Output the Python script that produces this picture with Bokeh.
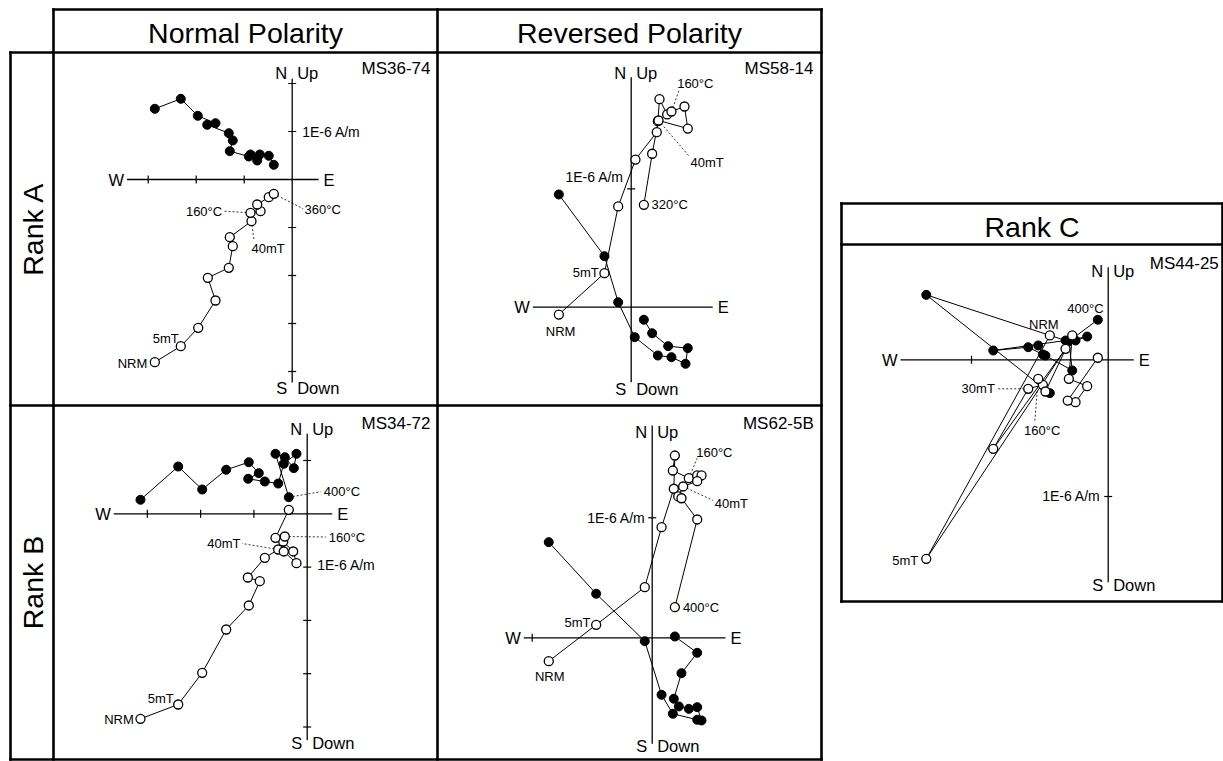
import numpy as np
from bokeh.plotting import figure
from bokeh.models import Range1d
from bokeh.embed import file_html
from bokeh.resources import INLINE
from bokeh.core.properties import value

W, H = 1223, 761
FONT = value("Liberation Sans")

# ---------------- titles ----------------
col_titles = ["Normal Polarity", "Reversed Polarity"]
row_titles = ["Rank A", "Rank B"]
side_title = "Rank C"
axis_unit_label = "1E-6 A/m"

# ---------------- data (units of 1E-6 A/m) ----------------
# h = horizontal projection (E, N) -> solid ; v = vertical projection (E, Up) -> open
NA_name = "MS36-74"
NA_h_e = [-2.862, -2.321, -1.967, -1.598, -1.771, -1.321, -1.238, -1.300, -0.904, -0.869, -0.729, -0.675, -0.488, -0.383]
NA_h_n = [1.473, 1.681, 1.327, 1.173, 1.140, 0.965, 0.813, 0.590, 0.479, 0.521, 0.396, 0.521, 0.494, 0.306]
NA_v_e = [-2.862, -2.321, -1.958, -1.598, -1.758, -1.321, -1.238, -1.300, -0.848, -0.869, -0.660, -0.729, -0.488, -0.383]
NA_v_u = [-3.806, -3.473, -3.090, -2.521, -2.048, -1.840, -1.390, -1.202, -0.869, -0.694, -0.660, -0.521, -0.369, -0.298]

RA_name = "MS58-14"
RA_h_e = [-0.611, -0.226, -0.110, 0.030, 0.225, 0.340, 0.459, 0.478, 0.312, 0.177, 0.107]
RA_h_n = [0.952, 0.431, 0.042, -0.253, -0.408, -0.422, -0.478, -0.346, -0.329, -0.220, -0.106]
RA_v_e = [-0.611, -0.226, -0.110, 0.036, 0.216, 0.225, 0.239, 0.304, 0.340, 0.450, 0.478, 0.231, 0.177, 0.107]
RA_v_u = [-0.062, 0.287, 0.851, 1.247, 1.478, 1.571, 1.757, 1.628, 1.653, 1.695, 1.509, 1.577, 1.296, 0.865]

NB_name = "MS34-72"
NB_h_e = [-3.128, -2.420, -1.970, -1.520, -1.096, -0.908, -1.107, -0.795, -0.544, -0.439, -0.201, -0.251, -0.420, -0.595, -0.345]
NB_h_n = [0.263, 0.887, 0.456, 0.826, 0.968, 0.762, 0.657, 0.606, 0.568, 0.938, 1.126, 0.856, 1.062, 1.126, 0.311]
NB_v_e = [-3.128, -2.420, -1.970, -1.520, -1.096, -0.889, -1.114, -0.795, -0.544, -0.439, -0.201, -0.263, -0.450, -0.420, -0.595, -0.345]
NB_v_u = [-3.846, -3.578, -2.983, -2.171, -1.720, -1.265, -1.195, -0.826, -0.670, -0.707, -0.927, -0.707, -0.520, -0.426, -0.450, 0.075]

RB_name = "MS62-5B"
RB_h_e = [-0.862, -0.467, -0.062, 0.078, 0.172, 0.375, 0.411, 0.375, 0.305, 0.222, 0.180, 0.244, 0.375, 0.189]
RB_h_n = [0.797, 0.367, -0.028, -0.475, -0.633, -0.683, -0.689, -0.578, -0.592, -0.572, -0.508, -0.295, -0.125, 0.011]
RB_v_e = [-0.862, -0.467, -0.062, 0.078, 0.180, 0.189, 0.172, 0.305, 0.375, 0.411, 0.375, 0.258, 0.217, 0.244, 0.375, 0.189]
RB_v_u = [-0.195, 0.108, 0.422, 0.922, 1.242, 1.519, 1.394, 1.330, 1.353, 1.353, 1.305, 1.261, 1.178, 1.163, 0.986, 0.255]

C_name = "MS44-25"
C_e = [-0.427, -1.331, -0.312, -0.841, -0.585, -0.478, -0.512, -0.459, -0.263, -0.288, -0.154, -0.239, -0.296, -0.076]
C_n = [-0.244, 0.475, 0.141, 0.068, 0.092, 0.039, 0.105, 0.031, -0.078, 0.141, 0.170, 0.141, 0.129, 0.293]
C_u = [0.178, -1.456, 0.080, -0.651, -0.212, -0.183, -0.139, -0.232, 0.178, -0.139, -0.193, -0.310, -0.298, 0.015]

# ---------------- figure ----------------
p = figure(width=W, height=H, x_range=Range1d(0, W), y_range=Range1d(0, H),
           output_backend="svg", toolbar_location=None,
           x_axis_type=None, y_axis_type=None, min_border=0)
p.outline_line_color = None
p.background_fill_color = "white"
p.border_fill_color = "white"


def Y(v):
    return H - v


# table frame
frame = [
    (53, 9, 821, 9), (10, 52, 821, 52), (10, 405, 821, 405), (10, 759, 821, 759),
    (10, 52, 10, 759), (53, 9, 53, 759), (437, 9, 437, 759), (821, 9, 821, 759),
    (841, 203, 1222, 203), (841, 244, 1222, 244), (841, 601, 1222, 601),
    (841, 203, 841, 601), (1222, 203, 1222, 601),
]
p.segment(x0=[f[0] for f in frame], y0=[Y(f[1]) for f in frame],
          x1=[f[2] for f in frame], y1=[Y(f[3]) for f in frame],
          line_color="black", line_width=2.6, line_cap="square")

p.text(x=[245, 629, 1031.5], y=[Y(32), Y(32), Y(226)], text=col_titles + [side_title],
       text_align="center", text_baseline="middle", text_font=FONT,
       text_font_size="28.5px", text_color="black")
p.text(x=[32.5, 32.5], y=[Y(228.5), Y(582)], text=row_titles, angle=np.pi / 2,
       text_align="center", text_baseline="middle", text_font=FONT,
       text_font_size="28.5px", text_color="black")

panels = [
    dict(name=NA_name, he=NA_h_e, hn=NA_h_n, ve=NA_v_e, vu=NA_v_u,
         origin=(291.7, 179), scale=48.0, xaxis=(-3.44, 0.55), yaxis=(2.10, -4.23),
         xticks=[-3, -2, -1], yticks=[2, 1, -1, -2, -3, -4], top_off=-5.5, bot_off=5,
         sample_pos=(430, 68),
         labels=[("NRM", ("v", 0), -7.5, 1.5, "right", None),
                 ("5mT", ("v", 1), -2, -8, "right", None),
                 ("160°C", ("v", 9), -28.3, -1.6, "right", (-26, -1.6)),
                 ("40mT", ("v", 8), 0, 27.7, "left", (2.5, 19)),
                 ("360°C", ("v", 13), 30.7, 15.7, "left", (29.5, 15)),
                 (axis_unit_label, ("t", 0, 1), 10, 0, "left", None)]),
    dict(name=RA_name, he=RA_h_e, hn=RA_h_n, ve=RA_v_e, vu=RA_v_u,
         origin=(630.7, 306.7), scale=118.4, xaxis=(-0.831, 0.689), yaxis=(1.943, -0.633),
         xticks=[], yticks=[1], top_off=-4, bot_off=7,
         sample_pos=(813, 68),
         labels=[("NRM", ("v", 0), 1.7, 16.7, "center", None),
                 ("5mT", ("v", 1), -5.7, -1, "right", None),
                 ("320°C", ("v", 13), 7.7, 0, "left", None),
                 ("160°C", ("v", 8), 5.7, -27.7, "left", (7.5, -21)),
                 ("40mT", ("v", 11), 32, 41.7, "left", (30, 35)),
                 (axis_unit_label, ("t", 0, 1), -7.4, -11.6, "right", None)]),
    dict(name=NB_name, he=NB_h_e, hn=NB_h_n, ve=NB_v_e, vu=NB_v_u,
         origin=(306.7, 513.3), scale=53.3, xaxis=(-3.63, 0.47), yaxis=(1.50, -4.25),
         xticks=[-3, -2, -1], yticks=[1, -1, -2, -3, -4], top_off=-4.5, bot_off=2.5,
         sample_pos=(430, 422.7),
         labels=[("NRM", ("v", 0), -6.7, 1, "right", None),
                 ("5mT", ("v", 1), -4.4, -6.3, "right", None),
                 ("40mT", ("v", 8), -37.7, -6.3, "right", (-36, -6)),
                 ("160°C", ("v", 13), 44, 0.7, "left", (41, 0.5)),
                 ("400°C", ("h", 14), 35, -6, "left", (32, -5.5)),
                 (axis_unit_label, ("t", 0, -1), 10, -2, "left", None)]),
    dict(name=RB_name, he=RB_h_e, hn=RB_h_n, ve=RB_v_e, vu=RB_v_u,
         origin=(651.7, 637.3), scale=120.0, xaxis=(-1.07, 0.611), yaxis=(1.769, -0.883),
         xticks=[-1], yticks=[1], top_off=6, bot_off=2,
         sample_pos=(813.3, 422.7),
         labels=[("NRM", ("v", 0), 1, 15.3, "center", None),
                 ("5mT", ("v", 1), -5.7, -2.6, "right", None),
                 ("400°C", ("v", 15), 8, 0, "left", None),
                 ("160°C", ("v", 7), 7.4, -26, "left", (8.4, -20)),
                 ("40mT", ("v", 11), 31.6, 17.3, "left", (30, 14)),
                 (axis_unit_label, ("t", 0, 1), -6.7, 0, "right", None)]),
    dict(name=C_name, he=C_e, hn=C_n, ve=C_e, vu=C_u,
         origin=(1107.7, 359.3), scale=136.7, xaxis=(-1.519, 0.187), yaxis=(0.677, -1.627),
         xticks=[-1], yticks=[-1], top_off=4, bot_off=3,
         sample_pos=(1218.3, 263),
         labels=[("NRM", ("v", 0), -6, -11, "center", None),
                 ("5mT", ("v", 1), -8, 1.7, "right", None),
                 ("30mT", ("v", 4), -33.4, 0, "right", (-31, 0)),
                 ("160°C", ("v", 6), 4, 51.7, "center", (-3.5, 44)),
                 ("400°C", ("h", 13), -12.3, -11, "center", None),
                 (axis_unit_label, ("t", 0, -1), -7.7, -1, "right", None)]),
]

TXT = dict(text_font=FONT, text_color="black", text_baseline="middle")

for P in panels:
    s = P["scale"]
    ox, oy = P["origin"]
    sp = p.subplot(x_source=Range1d(0, 1), y_source=Range1d(0, 1),
                   x_target=Range1d(ox, ox + s), y_target=Range1d(Y(oy), Y(oy) + s))
    x0, x1 = P["xaxis"]
    y0, y1 = P["yaxis"]
    sp.segment(x0=[x0, 0], y0=[0, y0], x1=[x1, 0], y1=[0, y1], line_color="black", line_width=1.3)
    t = 4.0 / s
    xt, yt = P["xticks"], P["yticks"]
    if xt:
        sp.segment(x0=xt, y0=[-t] * len(xt), x1=xt, y1=[t] * len(xt), line_color="black", line_width=1.2)
    if yt:
        sp.segment(x0=[-t] * len(yt), y0=yt, x1=[t] * len(yt), y1=yt, line_color="black", line_width=1.2)

    ax_fs = "16.5px"
    sp.text(x=[x0], y=[0], text=["W"], text_align="right", x_offset=-3, text_font_size=ax_fs, **TXT)
    sp.text(x=[x1], y=[0], text=["E"], text_align="left", x_offset=5, text_font_size=ax_fs, **TXT)
    sp.text(x=[0], y=[y0], text=["N"], text_align="right", x_offset=-5, y_offset=P["top_off"], text_font_size=ax_fs, **TXT)
    sp.text(x=[0], y=[y0], text=["Up"], text_align="left", x_offset=5, y_offset=P["top_off"], text_font_size=ax_fs, **TXT)
    sp.text(x=[0], y=[y1], text=["S"], text_align="right", x_offset=-5, y_offset=P["bot_off"], text_font_size=ax_fs, **TXT)
    sp.text(x=[0], y=[y1], text=["Down"], text_align="left", x_offset=5, y_offset=P["bot_off"], text_font_size=ax_fs, **TXT)

    def ref_xy(r):
        if r[0] == "v":
            return P["ve"][r[1]], P["vu"][r[1]]
        if r[0] == "h":
            return P["he"][r[1]], P["hn"][r[1]]
        return r[1], r[2]

    # leader lines
    for (txt, r, dx, dy, al, lead) in P["labels"]:
        if lead is not None:
            px, py = ref_xy(r)
            sp.segment(x0=[px], y0=[py], x1=[px + lead[0] / s], y1=[py - lead[1] / s],
                       line_color="black", line_width=0.8, line_dash="2 2")

    # paths
    sp.line(x=P["he"], y=P["hn"], line_color="black", line_width=1.0)
    sp.line(x=P["ve"], y=P["vu"], line_color="black", line_width=1.0)
    sp.scatter(x=P["he"], y=P["hn"], marker="circle", size=9, fill_color="black", line_color="black", line_width=1)
    sp.scatter(x=P["ve"], y=P["vu"], marker="circle", size=9, fill_color="white", line_color="black", line_width=1.3)

    for (txt, r, dx, dy, al, lead) in P["labels"]:
        px, py = ref_xy(r)
        fs = "14px" if txt == axis_unit_label else "13px"
        sp.text(x=[px], y=[py], text=[txt], text_align=al, x_offset=dx, y_offset=dy,
                text_font_size=fs, **TXT)

    sx, sy = P["sample_pos"]
    p.text(x=[sx], y=[Y(sy)], text=[P["name"]], text_align="right", text_font_size="17px", **TXT)

open("out.html", "w").write(file_html(p, INLINE))
